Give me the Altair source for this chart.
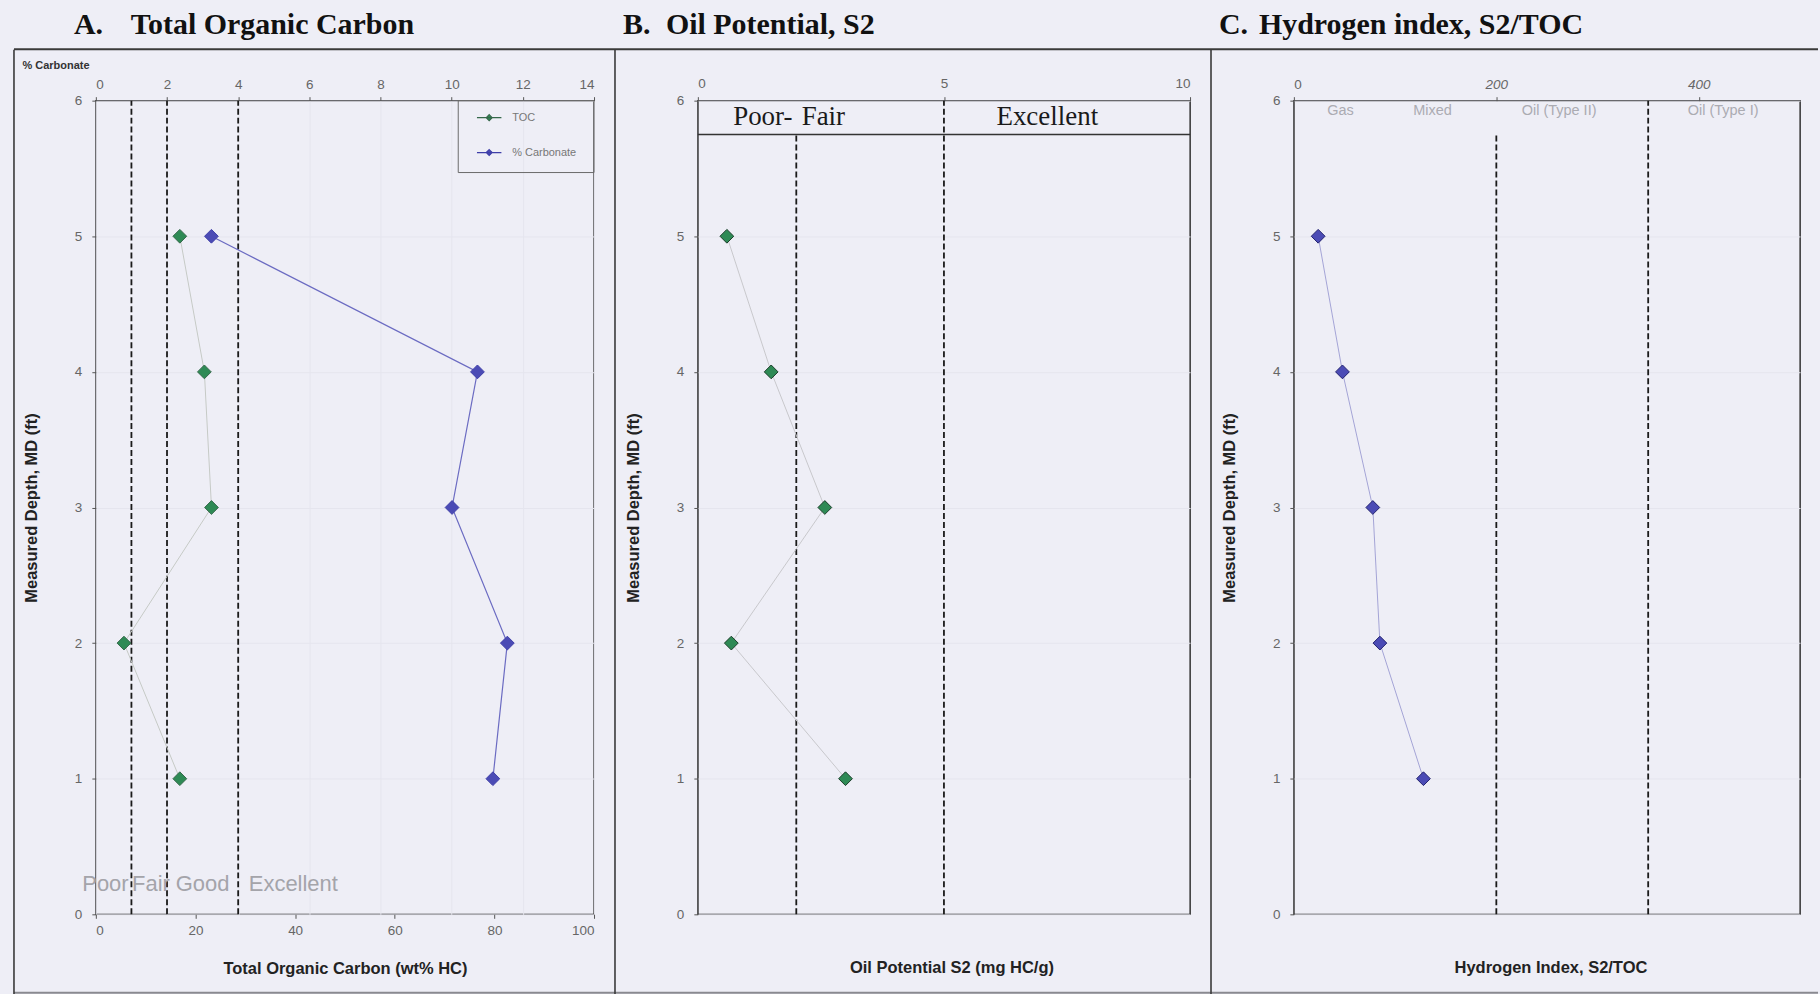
import altair as alt
import pandas as pd

# ---- measured samples (depth in ft) ----
depth = [5, 4, 3, 2, 1]
toc = [2.36, 3.05, 3.25, 0.79, 2.36]          # upper scale of panel A
carbonate = [23.2, 76.6, 71.5, 82.6, 79.7]    # lower scale of panel A
s2 = [0.59, 1.49, 2.58, 0.68, 3.00]           # mg HC/g
hi = [24, 48, 78, 85, 128]                    # S2/TOC

series_names = ["TOC", "% Carbonate"]

# ---- interpretation cut-offs and class names ----
toc_cutoffs = [1, 2, 4]
toc_classes = ["Poor", "Fair", "Good", "Excellent"]
toc_class_at = [0.27, 1.55, 3.0, 5.55]
toc_class_depth = [0.22, 0.22, 0.22, 0.22]

s2_cutoffs = [2, 5]
s2_cutoff_tops = [5.75, 6]
s2_header_depth = [5.75]
s2_classes = ["Poor-", "Fair", "Excellent"]
s2_class_at = [1.32, 2.55, 7.1]
s2_class_depth = [5.88, 5.88, 5.88]

hi_cutoffs = [200, 350]
hi_cutoff_tops = [5.75, 6]
hi_classes = ["Gas", "Mixed", "Oil (Type II)", "Oil (Type I)"]
hi_class_at = [46, 137, 262, 424]
hi_class_depth = [5.92, 5.92, 5.92, 5.92]

# ---- layout / style ----
W_A, W_B, W_C = 499, 493, 507
H = 815
GAP = 104
LEFT, TOP = 95, 99
CANVAS_W, CANVAS_H = 1820, 994
BG = "#EEEEF6"
GRID = "#E5E5EE"
SANS = "Liberation Sans"
SERIF = "Liberation Serif"
GREEN, GREEN_EDGE = "#2E8A55", "#1B3D29"
BLUE, BLUE_EDGE = "#4B4BB5", "#22226E"
AXIS_TITLE_SIZE = 16.5

one = pd.DataFrame({"k": [0]})

DEPTH_SCALE = alt.Scale(domain=[0, 6], nice=False, zero=False)
DEPTH_AXIS = alt.Axis(values=[0, 1, 2, 3, 4, 5, 6], format="d",
                      title="Measured Depth, MD (ft)", titleX=-64, titleY=H / 2,
                      titleAngle=-90, titleAlign="center", titleBaseline="middle",
                      grid=True, gridColor=GRID, tickSize=4, labelPadding=10,
                      domain=False)


def depth_y(field):
    return alt.Y(f"{field}:Q", scale=DEPTH_SCALE, axis=DEPTH_AXIS)


def text_at(txt, x, y, size, font=SANS, weight="normal", color="#111", align="left"):
    return alt.Chart(one).mark_text(
        text=txt, font=font, fontSize=size, fontWeight=weight, color=color,
        align=align, baseline="middle"
    ).encode(x=alt.value(x), y=alt.value(y))


def hrule(x1, x2, y, color="#3A3A3A", w=1.6):
    return alt.Chart(one).mark_rule(color=color, strokeWidth=w).encode(
        x=alt.value(x1), x2=alt.value(x2), y=alt.value(y))


def vrule(x, y1, y2, color="#3A3A3A", w=1.6):
    return alt.Chart(one).mark_rule(color=color, strokeWidth=w).encode(
        x=alt.value(x), y=alt.value(y1), y2=alt.value(y2))


dash = dict(strokeDash=[6, 3], strokeWidth=1.8, color="#1A1A1A")
diamond = dict(shape="diamond", filled=True, size=190, opacity=1, strokeWidth=1)

# =============== Panel A: Total Organic Carbon ===============
toc_df = pd.DataFrame({"depth": depth, "value": toc, "series": "TOC"})
carb_df = pd.DataFrame({"depth": depth, "value": carbonate, "series": "% Carbonate"})
toc_cut_df = pd.DataFrame({"x": toc_cutoffs, "y0": [0] * len(toc_cutoffs),
                           "y1": [6] * len(toc_cutoffs)})
toc_cls_df = pd.DataFrame({"label": toc_classes, "x": toc_class_at, "d": toc_class_depth})

toc_scale = alt.Scale(domain=[0, 14], nice=False, zero=False)
carb_scale = alt.Scale(domain=[0, 100], nice=False, zero=False)

toc_axis = alt.Axis(orient="top", values=list(range(0, 15, 2)), title="% Carbonate",
                    titleX=-74, titleY=-35, titleAngle=0, titleAlign="left",
                    titleBaseline="middle", titleFontSize=11, titleFontWeight="bold",
                    titleColor="#333", grid=True, gridColor=GRID, tickSize=4,
                    labelPadding=5, domain=False)
carb_axis = alt.Axis(orient="bottom", values=list(range(0, 101, 20)),
                     title="Total Organic Carbon (wt% HC)", titleX=W_A / 2, titleY=54,
                     titleAlign="center", titleBaseline="middle", grid=False,
                     tickSize=4, labelPadding=5, domain=False)


def toc_x(field):
    return alt.X(f"{field}:Q", scale=toc_scale, axis=toc_axis)


def carb_x(field):
    return alt.X(f"{field}:Q", scale=carb_scale, axis=carb_axis)


legend_path = "M-1,0L1,0M0,-0.24L0.24,0L0,0.24L-0.24,0Z"
legend_spec = alt.Legend(title=None, orient="none", legendX=381, legendY=4,
                         symbolType=legend_path, symbolSize=600, symbolStrokeWidth=1.2,
                         labelFont=SANS, labelFontSize=11, labelColor="#777",
                         labelOffset=10, rowPadding=16, padding=0)
fill_enc = alt.Fill("series:N", scale=alt.Scale(domain=series_names, range=[GREEN, BLUE]),
                    legend=legend_spec)
stroke_enc = alt.Stroke("series:N",
                        scale=alt.Scale(domain=series_names, range=["#35684A", "#3E3EA8"]),
                        legend=legend_spec)

toc_rules = alt.Chart(toc_cut_df).mark_rule(**dash).encode(
    x=toc_x("x"), y=depth_y("y0"), y2="y1:Q")
toc_cls = alt.Chart(toc_cls_df).mark_text(font=SANS, fontSize=22, color="#A4A4AA",
                                          align="center", baseline="middle").encode(
    x=toc_x("x"), y=depth_y("d"), text="label:N")
toc_line = alt.Chart(toc_df).mark_line(color="#C6CAC6", strokeWidth=1).encode(
    x=toc_x("value"), y=depth_y("depth"), order="depth:Q")
toc_pts = alt.Chart(toc_df).mark_point(**diamond).encode(
    x=toc_x("value"), y=depth_y("depth"), fill=fill_enc, stroke=stroke_enc)

carb_line = alt.Chart(carb_df).mark_line(color="#6B6BC2", strokeWidth=1.2).encode(
    x=carb_x("value"), y=depth_y("depth"), order="depth:Q")
carb_pts = alt.Chart(carb_df).mark_point(**diamond).encode(
    x=carb_x("value"), y=depth_y("depth"), fill=fill_enc, stroke=stroke_enc)

# page frame, panel headings and legend box (pixel offsets from panel A's plot origin)
canvas = alt.Chart(one).mark_rect(opacity=0).encode(
    x=alt.value(-LEFT), x2=alt.value(CANVAS_W - LEFT),
    y=alt.value(-TOP), y2=alt.value(CANVAS_H - TOP))
frame = alt.layer(
    canvas,
    hrule(-82, CANVAS_W - LEFT, -51.5, w=2),
    hrule(-82, CANVAS_W - LEFT, 893.5, color="#8A8A90", w=2),
    vrule(-82, -51, CANVAS_H - TOP),
    vrule(520, -51, CANVAS_H - TOP),
    vrule(1117, -51, CANVAS_H - TOP),
)
legend_box = alt.Chart(one).mark_rect(fillOpacity=0, stroke="#6A6A6A", strokeWidth=1).encode(
    x=alt.value(363), x2=alt.value(W_A), y=alt.value(0), y2=alt.value(72))
a_heads = alt.layer(
    text_at("A.", -22, -76, 30, font=SERIF, weight="bold"),
    text_at("Total Organic Carbon", 35, -76, 30, font=SERIF, weight="bold"),
)

panel_a = alt.layer(
    frame,
    alt.layer(toc_rules, toc_cls, toc_line, toc_pts),
    alt.layer(carb_line, carb_pts),
    legend_box,
    a_heads,
).resolve_scale(x="independent").properties(width=W_A, height=H)

# =============== Panel B: Oil Potential, S2 ===============
s2_df = pd.DataFrame({"depth": depth, "value": s2})
s2_cut_df = pd.DataFrame({"x": s2_cutoffs, "y0": [0, 0], "y1": s2_cutoff_tops})
s2_head_df = pd.DataFrame({"x0": [0], "x1": [10], "d": s2_header_depth})
s2_cls_df = pd.DataFrame({"label": s2_classes, "x": s2_class_at, "d": s2_class_depth})
s2_scale = alt.Scale(domain=[0, 10], nice=False, zero=False)
s2_axis = alt.Axis(orient="top", values=[0, 5, 10], title=None, grid=False,
                   tickSize=4, labelPadding=6, domain=False)


def s2_x(field):
    return alt.X(f"{field}:Q", scale=s2_scale, axis=s2_axis)


b_rules = alt.Chart(s2_cut_df).mark_rule(**dash).encode(
    x=s2_x("x"), y=depth_y("y0"), y2="y1:Q")
b_head = alt.Chart(s2_head_df).mark_rule(color="#333", strokeWidth=1.5).encode(
    x=s2_x("x0"), x2="x1:Q", y=depth_y("d"))
b_cls = alt.Chart(s2_cls_df).mark_text(font=SERIF, fontSize=27, color="#1A1A1A",
                                       align="center", baseline="middle").encode(
    x=s2_x("x"), y=depth_y("d"), text="label:N")
b_line = alt.Chart(s2_df).mark_line(color="#C8C8CC", strokeWidth=1).encode(
    x=s2_x("value"), y=depth_y("depth"), order="depth:Q")
b_pts = alt.Chart(s2_df).mark_point(fill=GREEN, stroke=GREEN_EDGE, **diamond).encode(
    x=s2_x("value"), y=depth_y("depth"))
b_text = alt.layer(
    text_at("B.", -75, -76, 30, font=SERIF, weight="bold"),
    text_at("Oil Potential, S2", -32, -76, 30, font=SERIF, weight="bold"),
    text_at("Oil Potential S2 (mg HC/g)", W_B / 2 + 8, H + 54, AXIS_TITLE_SIZE,
            weight="bold", color="#222", align="center"),
)
panel_b = alt.layer(b_rules, b_head, b_cls, b_line, b_pts, b_text).properties(
    width=W_B, height=H)

# =============== Panel C: Hydrogen index, S2/TOC ===============
hi_df = pd.DataFrame({"depth": depth, "value": hi})
hi_cut_df = pd.DataFrame({"x": hi_cutoffs, "y0": [0, 0], "y1": hi_cutoff_tops})
hi_cls_df = pd.DataFrame({"label": hi_classes, "x": hi_class_at, "d": hi_class_depth})
hi_scale = alt.Scale(domain=[0, 500], nice=False, zero=False)
hi_axis = alt.Axis(orient="top", values=[0, 200, 400], title=None, grid=False,
                   tickSize=4, labelPadding=5, domain=False,
                   labelFontStyle={"condition": {"test": "datum.value === 0",
                                                 "value": "normal"},
                                   "value": "italic"})


def hi_x(field):
    return alt.X(f"{field}:Q", scale=hi_scale, axis=hi_axis)


c_rules = alt.Chart(hi_cut_df).mark_rule(**dash).encode(
    x=hi_x("x"), y=depth_y("y0"), y2="y1:Q")
c_cls = alt.Chart(hi_cls_df).mark_text(font=SANS, fontSize=14.5, color="#ABABB2",
                                       align="center", baseline="middle").encode(
    x=hi_x("x"), y=depth_y("d"), text="label:N")
c_line = alt.Chart(hi_df).mark_line(color="#A4A4D6", strokeWidth=1).encode(
    x=hi_x("value"), y=depth_y("depth"), order="depth:Q")
c_pts = alt.Chart(hi_df).mark_point(fill=BLUE, stroke=BLUE_EDGE, **diamond).encode(
    x=hi_x("value"), y=depth_y("depth"))
c_text = alt.layer(
    text_at("C.", -75, -76, 30, font=SERIF, weight="bold"),
    text_at("Hydrogen index, S2/TOC", -35, -76, 30, font=SERIF, weight="bold"),
    text_at("Hydrogen Index, S2/TOC", W_C / 2 + 4, H + 54, AXIS_TITLE_SIZE,
            weight="bold", color="#222", align="center"),
)
panel_c = alt.layer(c_rules, c_cls, c_line, c_pts, c_text).properties(
    width=W_C, height=H)

chart = alt.hconcat(panel_a, panel_b, panel_c, spacing=GAP, bounds="flush").properties(
    background=BG, padding=0
).configure_axis(
    labelFont=SANS, labelFontSize=13.5, labelColor="#666",
    titleFont=SANS, titleFontSize=AXIS_TITLE_SIZE, titleFontWeight="bold",
    titleColor="#222", tickColor="#555",
).configure_view(stroke="#262626", strokeWidth=1.4)

chart.save("out.html", embed_options={"renderer": "svg", "actions": False})
